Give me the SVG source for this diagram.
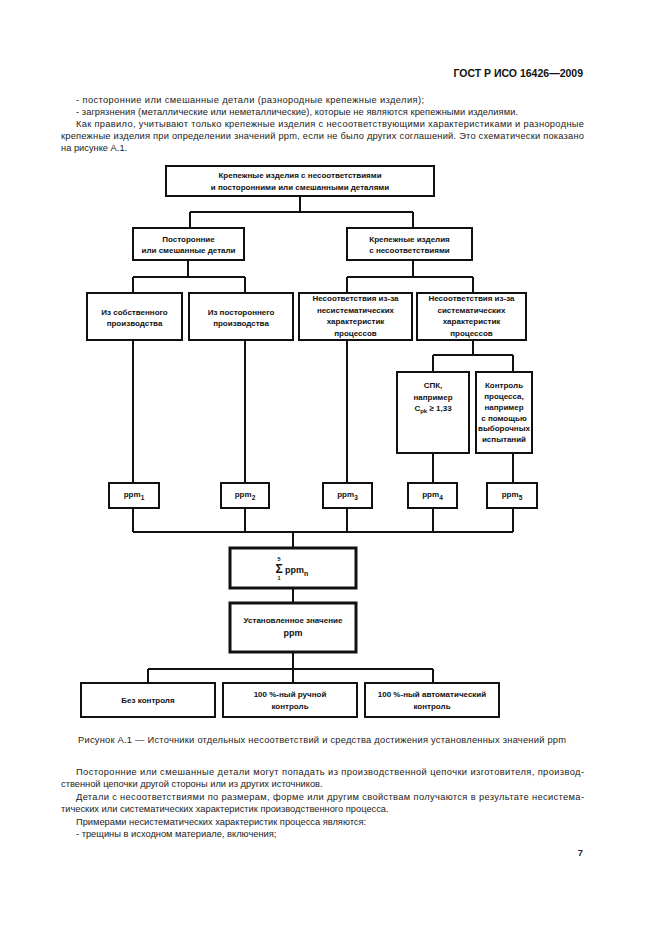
<svg xmlns="http://www.w3.org/2000/svg" width="661" height="936" viewBox="0 0 661 936">
<style>
.bg{fill:#ffffff}
.box{fill:#ffffff;stroke:#111;stroke-width:2}
.thick{fill:#ffffff;stroke:#111;stroke-width:3}
.conn{fill:none;stroke:#111;stroke-width:2}
.t{font-family:"Liberation Sans",Arial,sans-serif;font-size:8px;font-weight:bold;fill:#111;text-anchor:middle}
.body{font-family:"Liberation Sans",Arial,sans-serif;font-size:9.3px;fill:#222}
.hdr{font-family:"Liberation Sans",Arial,sans-serif;font-size:10.5px;font-weight:bold;fill:#111;text-anchor:end}
</style>
<rect class="bg" x="0" y="0" width="661" height="936"/>
<text class="hdr" x="583" y="77">ГОСТ Р ИСО 16426—2009</text>
<g id="text-top">
<text class="body" x="76" y="103" textLength="348" lengthAdjust="spacing">-  посторонние или смешанные детали (разнородные крепежные изделия);</text>
<text class="body" x="76" y="115" textLength="442" lengthAdjust="spacing">-  загрязнения (металлические или неметаллические), которые не являются крепежными изделиями.</text>
<text class="body" x="76" y="127" textLength="508" lengthAdjust="spacing">Как правило, учитывают только крепежные изделия с несоответствующими характеристиками и разнородные</text>
<text class="body" x="61" y="139" textLength="523" lengthAdjust="spacing">крепежные изделия при определении значений ppm, если не было других соглашений. Это схематически показано</text>
<text class="body" x="61" y="151">на рисунке А.1.</text>
</g>
<g id="connectors">
<path class="conn" d="M300 196V212M190 212H413M190 212V228M413 212V228"/>
<path class="conn" d="M188 260V277M133 277H245M133 277V293M245 277V293"/>
<path class="conn" d="M413 260V277M347 277H473M347 277V293M473 277V293"/>
<path class="conn" d="M133 340V483M245 340V483M347 340V483"/>
<path class="conn" d="M473 340V355M433 355H513M433 355V372M513 355V372M433 453V483M513 453V483"/>
<path class="conn" d="M133 508V532M245 508V532M347 508V532M433 508V532M513 508V532M133 532H513M293 532V548"/>
<path class="conn" d="M293 588V603M293 652V669M148 669H433M148 669V683M293 669V683M433 669V683"/>
</g>
<g id="n-top">
<rect class="box" x="166" y="166" width="268" height="30"/>
<text class="t" x="300" y="178">Крепежные изделия с несоответствиями</text>
<text class="t" x="300" y="190">и посторонними или смешанными деталями</text>
</g>
<g id="n-foreign">
<rect class="box" x="133" y="228" width="111" height="32"/>
<text class="t" x="188.5" y="242">Посторонние</text>
<text class="t" x="188.5" y="253">или смешанные детали</text>
</g>
<g id="n-nonconf">
<rect class="box" x="347" y="228" width="125" height="32"/>
<text class="t" x="409.5" y="242">Крепежные изделия</text>
<text class="t" x="409.5" y="253">с несоответствиями</text>
</g>
<g id="n-own">
<rect class="box" x="87" y="293" width="95" height="47"/>
<text class="t" x="134.5" y="315">Из собственного</text>
<text class="t" x="134.5" y="326">производства</text>
</g>
<g id="n-outside">
<rect class="box" x="189" y="293" width="104" height="47"/>
<text class="t" x="241" y="315">Из постороннего</text>
<text class="t" x="241" y="326">производства</text>
</g>
<g id="n-nonsys">
<rect class="box" x="299" y="293" width="113" height="47"/>
<text class="t" x="355.5" y="301">Несоответствия из-за</text>
<text class="t" x="355.5" y="313">несистематических</text>
<text class="t" x="355.5" y="324">характеристик</text>
<text class="t" x="355.5" y="336">процессов</text>
</g>
<g id="n-sys">
<rect class="box" x="417" y="293" width="109" height="47"/>
<text class="t" x="471.5" y="301">Несоответствия из-за</text>
<text class="t" x="471.5" y="313">систематических</text>
<text class="t" x="471.5" y="324">характеристик</text>
<text class="t" x="471.5" y="336">процессов</text>
</g>
<g id="n-spc">
<rect class="box" x="397" y="372" width="72" height="81"/>
<text class="t" x="433" y="388">СПК,</text>
<text class="t" x="433" y="400">например</text>
<text class="t" x="433" y="411">C<tspan dy="2" font-size="6">pk</tspan><tspan dy="-2"> ≥ 1,33</tspan></text>
</g>
<g id="n-control">
<rect class="box" x="476" y="372" width="56" height="81"/>
<text class="t" x="504" y="388">Контроль</text>
<text class="t" x="504" y="399">процесса,</text>
<text class="t" x="504" y="410">например</text>
<text class="t" x="504" y="421">с помощью</text>
<text class="t" x="504" y="431">выборочных</text>
<text class="t" x="504" y="442">испытаний</text>
</g>
<g id="n-ppm1">
<rect class="box" x="109" y="483" width="50" height="25"/>
<text class="t" x="134" y="497">ppm<tspan dy="3" font-size="6.5">1</tspan></text>
</g>
<g id="n-ppm2">
<rect class="box" x="221" y="483" width="48" height="25"/>
<text class="t" x="245" y="497">ppm<tspan dy="3" font-size="6.5">2</tspan></text>
</g>
<g id="n-ppm3">
<rect class="box" x="323" y="483" width="49" height="25"/>
<text class="t" x="347.5" y="497">ppm<tspan dy="3" font-size="6.5">3</tspan></text>
</g>
<g id="n-ppm4">
<rect class="box" x="408" y="483" width="49" height="25"/>
<text class="t" x="432.5" y="497">ppm<tspan dy="3" font-size="6.5">4</tspan></text>
</g>
<g id="n-ppm5">
<rect class="box" x="487" y="483" width="50" height="25"/>
<text class="t" x="512" y="497">ppm<tspan dy="3" font-size="6.5">5</tspan></text>
</g>
<g id="n-sum">
<rect class="thick" x="230" y="548" width="126" height="40"/>
<text class="t" x="279" y="561" style="font-size:5.5px">5</text>
<text class="t" x="279" y="573" style="font-size:12px">Σ</text>
<text class="t" x="279" y="580" style="font-size:5.5px">1</text>
<text class="t" x="285" y="573" style="text-anchor:start;font-size:9px">ppm<tspan dy="3" style="font-size:7px">n</tspan></text>
</g>
<g id="n-target">
<rect class="thick" x="230" y="603" width="126" height="49"/>
<text class="t" x="293" y="623">Установленное значение</text>
<text class="t" x="293" y="636" style="font-size:9px">ppm</text>
</g>
<g id="n-none">
<rect class="box" x="81" y="683" width="134" height="34"/>
<text class="t" x="148" y="703">Без контроля</text>
</g>
<g id="n-manual">
<rect class="box" x="223" y="683" width="134" height="34"/>
<text class="t" x="290" y="697">100 %-ный ручной</text>
<text class="t" x="290" y="709">контроль</text>
</g>
<g id="n-auto">
<rect class="box" x="365" y="683" width="134" height="34"/>
<text class="t" x="432" y="697">100 %-ный автоматический</text>
<text class="t" x="432" y="709">контроль</text>
</g>
<text class="body" x="78" y="743" textLength="488" lengthAdjust="spacing">Рисунок А.1 — Источники отдельных несоответствий и средства достижения установленных значений ppm</text>
<g id="text-bottom">
<text class="body" x="76" y="775" textLength="508" lengthAdjust="spacing">Посторонние или смешанные детали могут попадать из производственной цепочки изготовителя, производ-</text>
<text class="body" x="61" y="787">ственной цепочки другой стороны или из других источников.</text>
<text class="body" x="76" y="800" textLength="508" lengthAdjust="spacing">Детали с несоответствиями по размерам, форме или другим свойствам получаются в результате несистема-</text>
<text class="body" x="61" y="812">тических или систематических характеристик производственного процесса.</text>
<text class="body" x="76" y="825">Примерами несистематических характеристик процесса являются:</text>
<text class="body" x="76" y="837">-  трещины в исходном материале, включения;</text>
<text class="body" x="583" y="856" style="text-anchor:end;font-weight:bold">7</text>
</g>
</svg>
